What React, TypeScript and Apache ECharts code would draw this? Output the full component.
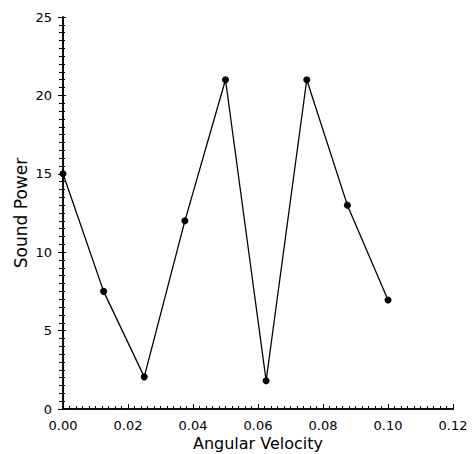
import React, { useEffect, useRef } from "react";
import * as echarts from "echarts";

const velocity = [0, 0.0125, 0.025, 0.0375, 0.05, 0.0625, 0.075, 0.0875, 0.1];
const soundPower = [15, 7.5, 2.05, 12, 21, 1.8, 21, 13, 6.95];
const xTitle = "Angular Velocity";
const yTitle = "Sound Power";

export default function App() {
  const ref = useRef<HTMLDivElement>(null);
  useEffect(() => {
    if (!ref.current) return;
    const chart = echarts.init(ref.current, null, { renderer: "svg" });
    const font = "DejaVu Sans";
    const lineStyle = { color: "#000", width: 1.6 };
    chart.setOption({
      animation: false,
      backgroundColor: "#fff",
      grid: { left: 63, right: 21, top: 17, bottom: 45, outerBoundsMode: "none", containLabel: false },
      xAxis: [
        {
          type: "value",
          min: 0,
          max: 0.12,
          interval: 0.02,
          position: "bottom",
          name: xTitle,
          nameLocation: "middle",
          nameGap: 26,
          nameMoveOverlap: false,
          nameTextStyle: { fontFamily: font, fontSize: 16, color: "#000" },
          axisLine: { show: true, onZero: false, lineStyle },
          axisTick: { show: true, inside: true, length: 5, lineStyle: { color: "#000", width: 1 } },
          minorTick: { show: true, splitNumber: 10, length: 3, lineStyle: { color: "#000", width: 1 } },
          axisLabel: {
            fontFamily: font,
            fontSize: 13,
            color: "#000",
            margin: 10,
            formatter: (v: number) => v.toFixed(2),
          },
          splitLine: { show: false },
        },
        {
          type: "value",
          min: 0,
          max: 0.12,
          position: "top",
          axisLine: { show: true, lineStyle },
          axisTick: { show: false },
          axisLabel: { show: false },
          splitLine: { show: false },
        },
      ],
      yAxis: [
        {
          type: "value",
          min: 0,
          max: 25,
          interval: 5,
          position: "left",
          name: yTitle,
          nameLocation: "middle",
          nameGap: 34,
          nameMoveOverlap: false,
          nameTextStyle: { fontFamily: font, fontSize: 17, color: "#000" },
          axisLine: { show: true, onZero: false, lineStyle },
          axisTick: { show: true, inside: false, length: 5, lineStyle: { color: "#000", width: 1 } },
          minorTick: { show: true, splitNumber: 10, length: 4, lineStyle: { color: "#000", width: 1 } },
          axisLabel: { fontFamily: font, fontSize: 13, color: "#000", margin: 11 },
          splitLine: { show: false },
        },
        {
          type: "value",
          min: 0,
          max: 25,
          interval: 5,
          position: "right",
          axisLine: { show: true, lineStyle },
          axisTick: { show: true, inside: false, length: 3, lineStyle: { color: "#000", width: 1 } },
          minorTick: { show: true, splitNumber: 10, length: 2, lineStyle: { color: "#000", width: 1 } },
          axisLabel: { show: false },
          splitLine: { show: false },
        },
      ],
      series: [
        {
          type: "line",
          data: velocity.map((x, i) => [x, soundPower[i]]),
          symbol: "circle",
          symbolSize: 7,
          lineStyle: { color: "#000", width: 1.3 },
          itemStyle: { color: "#000" },
          clip: false,
        },
      ],
    });
    return () => chart.dispose();
  }, []);
  return <div ref={ref} style={{ width: 474, height: 454, position: "absolute", left: 0, top: 0 }} />;
}
